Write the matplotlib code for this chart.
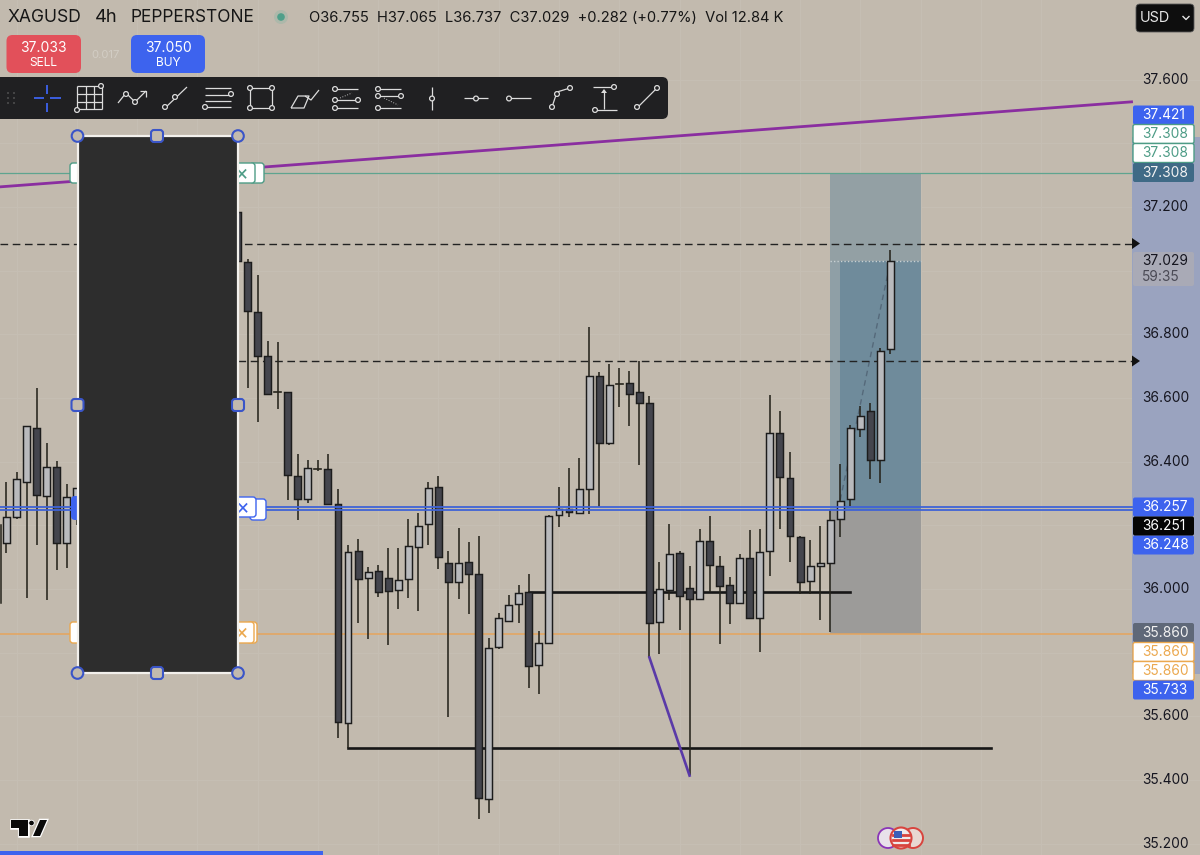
import matplotlib
matplotlib.use("Agg")
import matplotlib.pyplot as plt
from matplotlib.patches import Rectangle, FancyBboxPatch, Circle, Polygon

# ---------------- data ----------------
idx = list(range(0, 8)) + list(range(23, 89))
opens = [36.145,36.225,36.337,36.507,36.293,36.382,36.143,36.248,
 37.184,37.027,36.871,36.731,36.620,36.618,36.355,36.283,36.379,36.377,36.267,35.578,36.118,36.035,36.057,36.035,
 35.996,36.030,36.131,36.203,36.319,36.083,36.022,36.085,36.047,35.340,35.817,35.900,35.953,35.990,35.760,35.830,
 36.231,36.250,36.238,36.314,36.668,36.459,36.642,36.646,36.618,36.584,35.895,35.996,36.113,36.003,35.970,36.152,
 36.073,36.013,35.956,36.096,35.908,36.118,36.490,36.348,36.162,36.024,36.073,36.081,36.219,36.282,36.503,36.559,
 36.404,36.755]
highs = [36.337,36.367,36.512,36.631,36.458,36.402,36.330,36.317,
 37.184,37.036,36.987,36.779,36.777,36.618,36.424,36.405,36.404,36.424,36.314,36.138,36.158,36.070,36.075,36.130,
 36.128,36.220,36.240,36.337,36.355,36.120,36.191,36.148,36.166,35.845,35.924,35.982,36.012,36.046,35.869,36.232,
 36.319,36.379,36.410,36.824,36.681,36.707,36.693,36.685,36.717,36.606,36.086,36.203,36.118,36.071,36.189,36.229,
 36.105,36.039,36.109,36.184,36.187,36.608,36.559,36.429,36.165,36.154,36.198,36.248,36.393,36.515,36.576,36.585,
 36.756,37.065]
lows = [36.113,36.220,35.972,36.138,35.965,36.060,36.067,36.200,
 37.020,36.632,36.524,36.614,36.564,36.279,36.217,36.270,36.371,36.264,35.531,35.501,35.894,35.842,35.975,35.824,
 35.937,35.973,35.931,36.138,36.064,35.597,35.970,35.922,35.277,35.298,35.811,35.897,35.894,35.688,35.671,35.827,
 36.196,36.227,36.238,36.236,36.258,36.451,36.572,36.513,36.390,35.783,35.795,35.965,35.871,35.416,35.968,35.992,
 35.828,35.890,35.955,35.907,35.801,36.042,36.188,36.086,35.985,35.983,35.903,35.865,36.164,36.261,36.478,36.345,
 36.334,36.737]
closes = [36.225,36.345,36.512,36.296,36.384,36.145,36.290,36.317,
 37.030,36.874,36.733,36.614,36.618,36.358,36.283,36.381,36.377,36.267,35.581,36.117,36.030,36.054,35.991,35.994,
 36.027,36.134,36.198,36.318,36.101,36.021,36.081,36.046,35.344,35.815,35.909,35.950,35.988,35.759,35.830,36.230,
 36.252,36.241,36.314,36.669,36.459,36.640,36.644,36.614,36.585,35.894,35.999,36.111,35.979,35.968,36.152,36.076,
 36.010,35.957,36.098,35.910,36.117,36.490,36.351,36.165,36.022,36.072,36.083,36.218,36.277,36.505,36.543,36.404,
 36.747,37.029]

axis_ticks = [37.6, 37.2, 36.8, 36.6, 36.4, 36.0, 35.6, 35.4, 35.2]
level_target = 37.308
level_entry_hi = 36.257
level_entry_lo = 36.248
level_last = 36.251
level_stop = 35.860
level_box_top = 37.421
level_box_bot = 35.733
dash_levels = [37.085, 36.716]
current_price = 37.029
ohlc_text = "O36.755  H37.065  L36.737  C37.029  +0.282 (+0.77%)  Vol 12.84 K"

hline_a = (35.992, 52, 84)   # price, first bar, last bar
hline_b = (35.500, 34, 98)
trend_x = [-0.65, 112.0]
trend_y = [37.263, 37.530]
spike_x = [64.0, 68.0]
spike_y = [35.785, 35.414]

# ---------------- figure / scales ----------------
W, H = 1200, 855
BG = "#c2baae"
PX_PER_UNIT, Y_REF, BAR_STEP, X_REF = 318.4, 589.0, 10.045, 6.5
plt.rcParams["font.family"] = ["Inter", "DejaVu Sans"]
fig = plt.figure(figsize=(12, 8.55), dpi=100, facecolor=BG)
ax = fig.add_axes([0, 0, 1, 1], facecolor=BG)
ax.set_xlim((0 - X_REF) / BAR_STEP, (W - X_REF) / BAR_STEP)
ax.set_ylim(36 + (Y_REF - H) / PX_PER_UNIT, 36 + Y_REF / PX_PER_UNIT)
for s in ax.spines.values():
    s.set_visible(False)
ax.set_xticks([]); ax.set_yticks([])

# overlay in pixel space for the app's interface furniture
ui = fig.add_axes([0, 0, 1, 1], facecolor="none")
ui.set_xlim(0, W); ui.set_ylim(H, 0); ui.axis("off")

# faint grid
GRID = "#c5beb3"
for t in axis_ticks + [37.4, 37.0, 36.2, 35.8]:
    ax.axhline(t, color=GRID, lw=1, zorder=0)
for k in range(-1, 18):
    ax.axvline(1 + 6 * k, color=GRID, lw=1, zorder=0)

BLUE = "#3d63ee"
# right price-scale highlight for the selected drawing
yt = ax.get_yaxis_transform()
ax.add_patch(Rectangle((1132 / W, level_box_bot), 68 / W, level_box_top - level_box_bot,
                       transform=yt, color="#9aa3bf", lw=0, zorder=1))

# position tool zones
E, L, T = 82, 91.05, 83
ax.add_patch(Rectangle((E, level_stop), L - E, level_entry_lo - level_stop, color="#9c9b99", lw=0, zorder=1))
ax.add_patch(Rectangle((E, level_entry_lo), L - E, level_target - level_entry_lo, color="#8f9fa6", lw=0, zorder=1))
ax.add_patch(Rectangle((E, current_price), L - E, level_target - current_price, color="#93a0a4", lw=0, zorder=1))
ax.add_patch(Rectangle((T, level_entry_lo), L - T, current_price - level_entry_lo, color="#6f8b9b", lw=0, zorder=1))
ax.plot([E, L], [current_price, current_price], color="#c8d0d2", lw=1, ls=(0, (1, 1.5)), zorder=2)
ax.plot([83, 88], [36.28, current_price], color="#55697a", lw=1, ls=(0, (4, 3)), zorder=2)

# level lines
ax.plot(trend_x, trend_y, color="#8a2ea0", lw=2.0, zorder=2)
xl = ax.get_xlim()
xr = (1132 - X_REF) / BAR_STEP
ax.plot([xl[0], xr], [level_target] * 2, color="#5ea48f", lw=0.9, zorder=2)
ax.plot([xl[0], xr], [level_stop] * 2, color="#e6a55c", lw=1.1, zorder=2)
ax.plot([xl[0], xr], [dash_levels[0]] * 2, color="#222222", lw=1, ls=(0, (5.5, 3.3)), zorder=2)
ax.plot([23, xr], [dash_levels[1]] * 2, color="#222222", lw=1, ls=(0, (5.5, 3.3)), zorder=2)

ax.plot([hline_a[1], hline_a[2]], [hline_a[0]] * 2, color="#161616", lw=1.9, zorder=2)
ax.plot([hline_b[1], hline_b[2]], [hline_b[0]] * 2, color="#161616", lw=1.9, zorder=2)

# candles
half = 0.345
for i, o, h, l, c in zip(idx, opens, highs, lows, closes):
    up = c >= o
    ax.plot([i, i], [l, h], color="#26241c", lw=1.15, zorder=3, solid_capstyle="butt")
    if abs(c - o) < 0.004:
        ax.plot([i - half, i + half], [c, c], color="#26241c", lw=1.2, zorder=4)
    else:
        ax.add_patch(Rectangle((i - half, min(o, c)), 2 * half, abs(c - o),
                               facecolor="#b9babd" if up else "#44454d",
                               edgecolor="#1c1c1c", lw=1.05, zorder=4))
# wick stub at the left edge
ax.plot([xl[0] + 0.05] * 2, [35.955, 36.2], color="#26241c", lw=1.1, zorder=3)

# entry lines over candles
for lv in (level_entry_hi, level_entry_lo):
    ax.plot([xl[0], xr], [lv, lv], color="#3f63d6", lw=1.3, zorder=5)
ax.plot(spike_x, spike_y, color="#5a3aa8", lw=1.9, zorder=5)

# ---------------- chips behind the masked block ----------------
def rbox(x0, y0, x1, y1, fc, ec="none", lw=0, r=3, z=6, **kw):
    p = FancyBboxPatch((x0 + r, y0 + r), x1 - x0 - 2 * r, y1 - y0 - 2 * r,
                       boxstyle=f"round,pad={r},rounding_size={r}", fc=fc, ec=ec, lw=lw, zorder=z, **kw)
    ui.add_patch(p)

GREEN, ORANGE = "#4d9c86", "#eba84e"
rbox(70, 163, 84, 183, "white", GREEN, 1)
rbox(250, 163, 264, 183, "white", GREEN, 1)
rbox(232, 163, 255, 183, "white", GREEN, 1, z=6.1)
ui.text(242, 173, "\u00d7", color=GREEN, fontsize=15, ha="center", va="center", zorder=7)
rbox(70, 622, 84, 643, "white", ORANGE, 1)
rbox(247, 622, 257, 643, "white", ORANGE, 1)
rbox(232, 622, 254, 643, "white", ORANGE, 1, z=6.1)
ui.text(241.5, 632.5, "\u00d7", color=ORANGE, fontsize=15, ha="center", va="center", zorder=7)
rbox(71, 496, 84, 520, BLUE, r=4)
rbox(250, 499, 266, 520, "white", BLUE, 1)
rbox(232, 497, 256, 517, "white", BLUE, 1, z=6.1)
ui.text(243, 507, "\u00d7", color=BLUE, fontsize=15, ha="center", va="center", zorder=7)

# masked block with handles
ui.add_patch(Rectangle((77.5, 136.5), 160, 536, fc="#2d2d2d", ec="#f2f0ec", lw=1.6, zorder=8))
for cx, cy in [(77.5, 136), (238, 136), (77.5, 673), (238, 673)]:
    ui.add_patch(Circle((cx, cy), 5.8, fc=BG, ec="#3a55c8", lw=1.5, zorder=9))
for cx, cy in [(157, 136), (77.5, 405), (238, 405), (157, 673)]:
    rbox(cx - 6, cy - 6, cx + 6, cy + 6, BG, "#3a55c8", 1.5, r=3, z=9)

# ---------------- header ----------------
DARK = "#161616"
ui.text(8, 17.5, "XAGUSD", fontsize=12.6, color=DARK, va="center")
ui.text(95, 17.5, "4h", fontsize=13.2, color=DARK, va="center")
ui.text(130, 17.5, "PEPPERSTONE", fontsize=12.5, color=DARK, va="center")
ui.add_patch(Circle((281, 17), 7, fc="#adb8aa", ec="none", zorder=2))
ui.add_patch(Circle((281, 17), 3.8, fc="#4f9f8a", ec="none", zorder=3))
ui.text(309, 17.5, ohlc_text, fontsize=10.6, color=DARK, va="center")

rbox(6.5, 35, 81, 73, "#e2505a", r=6)
rbox(131, 35, 205, 73, BLUE, r=6)
ui.text(43.5, 47.5, "37.033", fontsize=10, color="white", ha="center", va="center", zorder=7)
ui.text(43.5, 63, "SELL", fontsize=8.6, color="white", ha="center", va="center", zorder=7)
ui.text(168, 47.5, "37.050", fontsize=10, color="white", ha="center", va="center", zorder=7)
ui.text(168, 63, "BUY", fontsize=8.6, color="white", ha="center", va="center", zorder=7)
ui.text(105.5, 54.5, "0.017", fontsize=8.2, color="#d2cdc4", ha="center", va="center")

# ---------------- toolbar ----------------
TB = "#202022"
rbox(-8, 77, 668, 119, TB, r=6, z=6)
IC = "#dcdcdc"
def ln(xs, ys, c=IC, lw=0.9, ls="-"):
    ui.plot(xs, ys, color=c, lw=lw, ls=ls, zorder=7, solid_capstyle="butt")
def dot(x, y, r=2.4):
    ui.add_patch(Circle((x, y), r, fc=TB, ec=IC, lw=0.9, zorder=8))
for x in (8, 14):
    for y in (93, 98, 103):
        ui.add_patch(Circle((x, y), 0.9, fc="#5a5a5a", ec="none", zorder=7))
# crosshair
ln([34, 44], [98.5, 98.5], BLUE, 1.3); ln([50, 61], [98.5, 98.5], BLUE, 1.3)
ln([47, 47], [85, 94], BLUE, 1.3); ln([47, 47], [103, 112], BLUE, 1.3)
# grid
for x in (77, 85.5, 94, 102):
    ln([x, x], [86, 109])
for y in (86, 94, 102, 109):
    ln([77, 102], [y, y])
dot(77, 110); dot(101, 86)
# zigzag with arrow
ln([118, 126, 135, 146], [103, 93, 102, 91]); ln([140, 146, 146], [91, 91, 97]); dot(126, 94); dot(135, 102)
# line with nodes
ln([165, 187], [108, 87]); dot(165, 107); dot(175, 97)
# fib
for y in (88, 95, 101, 107):
    ln([205, 231], [y, y])
dot(231, 94); dot(205, 107)
# rectangle
ln([250, 250, 272, 272, 250], [88, 108, 108, 88, 88]); dot(250, 88); dot(272, 88); dot(250, 108); dot(272, 108)
# brush
ln([291, 298, 309, 304, 291], [108, 96, 96, 108, 108]); ln([305, 311, 319], [96, 100, 90])
# long position
for y in (89, 100, 108):
    ln([335, 358], [y, y])
dot(335, 89); dot(335, 100); dot(335, 108); dot(358, 100)
ln([340, 352], [98, 93], "#bbbbbb", 0.7, ":")
# short position
for y in (89, 96, 108):
    ln([378, 401], [y, y])
dot(378, 89); dot(378, 96); dot(378, 108); dot(401, 96)
ln([384, 398], [98, 105], "#bbbbbb", 0.7, ":")
# vertical / horizontal / ray
ln([432, 432], [87, 110]); dot(432, 98.5)
ln([464, 488], [98.5, 98.5]); dot(476, 98.5)
ln([509, 531], [98.5, 98.5]); dot(509, 98.5)
# path
ln([552, 557, 570], [107, 92, 88]); dot(552, 107); dot(557, 94); dot(570, 88)
# price range
ln([593, 612], [87, 87]); ln([604, 604], [90, 109]); ln([595, 617], [110, 110]); dot(614, 87); dot(595, 110)
ui.add_patch(Polygon([(601, 93), (607, 93), (604, 89)], fc=IC, ec="none", zorder=7))
# trend line
ln([637, 657], [108, 88]); dot(637, 107); dot(657, 88)

# ---------------- right scale ----------------
tx = 1142 / W
FS = 9.9
for t in axis_ticks:
    ax.text(tx, t, f"{t:.3f}", transform=yt, fontsize=FS, color="#15151f", va="center", ha="left", zorder=6)

def chip(price_y, text, fc, tc, ec="none"):
    rbox(1133, price_y - 9.5, 1194, price_y + 9.5, fc, ec, 1 if ec != "none" else 0, r=2, z=10)
    ui.text(1142, price_y + 0.3, text, fontsize=FS, color=tc, ha="left", va="center", zorder=11)

chip(115, "37.421", BLUE, "white")
chip(134, "37.308", "white", GREEN, GREEN)
chip(153, "37.308", "white", GREEN, GREEN)
chip(172.5, "37.308", "#3f6a86", "#f2f2f2")
rbox(1133, 252, 1194, 286, "#a9aab6", r=2, z=10)
ui.text(1142, 261, "37.029", fontsize=FS, color="#15151f", ha="left", va="center", zorder=11)
ui.text(1142, 277, "59:35", fontsize=FS, color="#4a4a55", ha="left", va="center", zorder=11)
chip(507, "36.257", BLUE, "white")
chip(545, "36.248", BLUE, "white")
chip(526, "36.251", "#050505", "white")
chip(632.5, "35.860", "#5f6878", "#f2f2f2")
chip(652, "35.860", "white", ORANGE, ORANGE)
chip(671, "35.860", "white", ORANGE, ORANGE)
chip(690, "35.733", BLUE, "white")
for y in (243.5, 361):
    ui.add_patch(Polygon([(1132, y - 5.5), (1132, y + 5.5), (1140, y)], fc="#111111", ec="none", zorder=10))

# currency box
rbox(1136, 4, 1194, 32, "#0e0e0e", "#5a5a5a", 0.6, r=4, z=10)
ui.text(1140, 18, "USD", fontsize=10.4, color="#e6e6e6", ha="left", va="center", zorder=11)
ui.plot([1183, 1186, 1189], [16.5, 19.5, 16.5], color="#e6e6e6", lw=1, zorder=11)

# ---------------- bottom furniture ----------------
ui.add_patch(Rectangle((0, 851), 323, 4, fc=BLUE, ec="none", zorder=6))
logo = [[(11, 820), (28, 820), (28, 836), (19, 836), (19, 828), (11, 828)],
        [(33, 836), (40, 820), (47, 820), (40, 836)]]
for pts in logo:
    ui.add_patch(Polygon(pts, fc="#0a0a0a", ec="white", lw=1.8, zorder=6, joinstyle="miter"))
    ui.add_patch(Polygon(pts, fc="#0a0a0a", ec="none", zorder=7))
ui.add_patch(Circle((31.5, 823), 2.8, fc="#0a0a0a", ec="white", lw=0.6, zorder=7))

ui.add_patch(Circle((888, 838), 10, fc="#e8e2ea", ec="#8a35b8", lw=1.3, zorder=6))
ui.add_patch(Circle((913, 838), 10, fc="#e8d8d2", ec="#d8443e", lw=1.4, zorder=6))
ui.add_patch(Circle((901, 838), 10.5, fc="#efeaea", ec="#d8443e", lw=1.5, zorder=7))
for y in (835, 840, 845):
    ui.plot([893, 909], [y, y], color="#d8443e", lw=2, zorder=8)
ui.add_patch(Rectangle((894, 831), 8, 7, fc="#3b5fb8", ec="none", zorder=9))

fig.savefig("out.png", dpi=100, facecolor=BG)
